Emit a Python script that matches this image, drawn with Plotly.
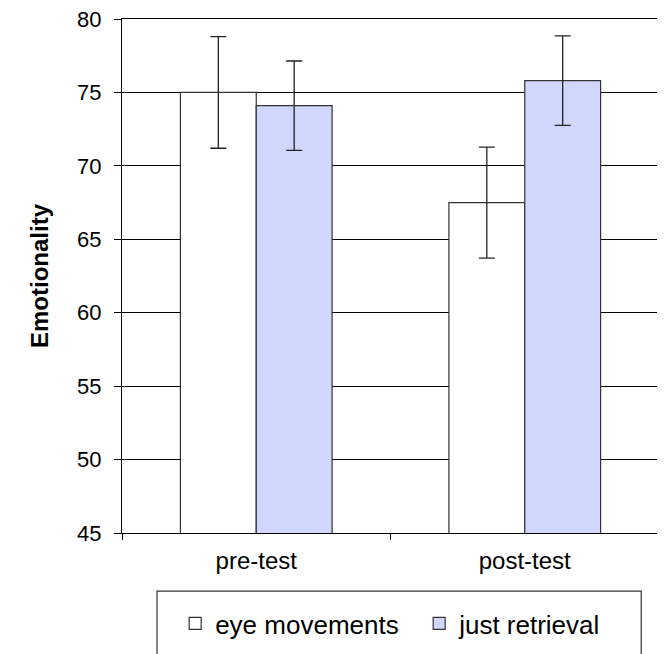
import plotly.graph_objects as go

categories = ["pre-test", "post-test"]
eye_movements = [75.0, 67.5]
eye_movements_err = [3.8, 3.78]
just_retrieval = [74.1, 75.8]
just_retrieval_err = [3.04, 3.05]
y_ticks = [45, 50, 55, 60, 65, 70, 75, 80]

FONT = "Liberation Sans, Arial, sans-serif"

fig = go.Figure()
fig.add_trace(go.Bar(
    name="eye movements", x=categories, y=eye_movements,
    marker=dict(color="#FFFFFF", line=dict(color="#333333", width=1.2)),
    error_y=dict(type="data", array=eye_movements_err, visible=True,
                 color="#222222", thickness=1.3, width=8),
))
fig.add_trace(go.Bar(
    name="just retrieval", x=categories, y=just_retrieval,
    marker=dict(color="#D1D7FC", line=dict(color="#333333", width=1.2)),
    error_y=dict(type="data", array=just_retrieval_err, visible=True,
                 color="#222222", thickness=1.3, width=8),
))

# legend frame (runs off the bottom edge, as in the reference)
fig.add_shape(type="rect", xref="paper", yref="paper",
              x0=0.0652, x1=0.9669, y0=-0.1131, y1=-0.30,
              line=dict(color="#333333", width=1.2), fillcolor="rgba(0,0,0,0)",
              layer="above")

fig.update_layout(
    width=665, height=654,
    margin=dict(l=114.3, r=13.5, t=11, b=128.5, autoexpand=False),
    paper_bgcolor="white", plot_bgcolor="white",
    barmode="group", bargap=0.435, bargroupgap=0,
    font=dict(family=FONT, size=22, color="black"),
    showlegend=True,
    legend=dict(
        orientation="h", x=0.099, y=-0.176, xanchor="left", yanchor="middle",
        borderwidth=0, bgcolor="rgba(0,0,0,0)",
        font=dict(family=FONT, size=26, color="black"),
        entrywidth=199, entrywidthmode="pixels",
    ),
)
fig.update_xaxes(
    type="category", showline=True, linecolor="black", linewidth=1.3,
    mirror=True, ticks="outside", ticklen=6, tickcolor="black",
    tickson="boundaries", showgrid=False, ticklabelstandoff=6,
    tickfont=dict(family=FONT, size=24, color="black"),
)
fig.update_yaxes(
    range=[45, 80], tickvals=y_ticks, showline=True, linecolor="black",
    linewidth=1.3, mirror=True, ticks="outside", ticklen=7, tickcolor="black",
    ticklabelstandoff=8, ticklabeloverflow="allow",
    showgrid=True, gridcolor="black", gridwidth=1, zeroline=False,
    tickfont=dict(family=FONT, size=22, color="black"),
    title=dict(text="<b>Emotionality</b>", standoff=21,
               font=dict(family=FONT, size=24, color="black")),
)

fig.write_html("out.html")
